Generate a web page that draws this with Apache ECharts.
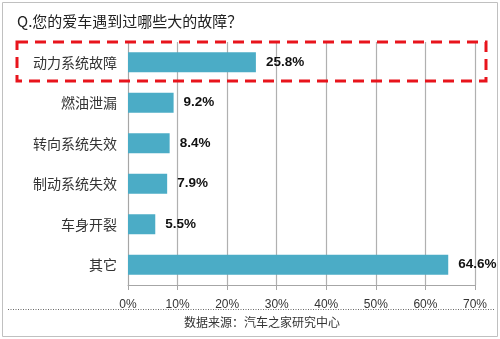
<!DOCTYPE html>
<html><head><meta charset="utf-8">
<script src="https://cdn.jsdelivr.net/npm/echarts@6/dist/echarts.min.js"></script>
<style>html,body{margin:0;padding:0;background:#fff}#c{width:500px;height:339px}</style>
</head><body><div id="c"></div>
<script>
const titleText = 'Q.您的爱车遇到过哪些大的故障？';
const sourceText = '数据来源：汽车之家研究中心';
const categories = ['动力系统故障','燃油泄漏','转向系统失效','制动系统失效','车身开裂','其它'];
const values = [25.8, 9.2, 8.4, 7.9, 5.5, 64.6];
const xTicks = [0, 10, 20, 30, 40, 50, 60, 70];

const chart = echarts.init(document.getElementById('c'), null, {renderer:'canvas'});
const cjk = '"Noto Sans CJK SC", sans-serif';
chart.setOption({
  animation: false,
  backgroundColor: '#fff',
  grid: {left: 128, right: 25, top: 42, bottom: 54, containLabel: false},
  xAxis: {
    type: 'value', min: xTicks[0], max: xTicks[xTicks.length-1], interval: 10,
    axisLine: {show: true, lineStyle: {color: '#a6a6a6', width: 1}},
    axisTick: {show: true, length: 5, lineStyle: {color: '#a6a6a6'}},
    splitLine: {show: true, lineStyle: {color: '#b0b0b0', width: 1.2}},
    axisLabel: {formatter: '{value}%', color: '#333', fontSize: 12, margin: 14, fontFamily: '"Liberation Sans", sans-serif'}
  },
  yAxis: {
    type: 'category', data: categories, inverse: true,
    axisLine: {show: true, lineStyle: {color: '#a6a6a6'}},
    axisTick: {show: false},
    axisLabel: {color: '#333', fontSize: 14, margin: 11, fontFamily: cjk}
  },
  series: [{
    type: 'bar', data: values, barWidth: 20,
    itemStyle: {color: '#4BACC6'},
    label: {show: true, position: 'right', distance: 10, formatter: '{c}%', color: '#111', fontWeight: 'bold', fontSize: 13.5, fontFamily: '"Liberation Sans", sans-serif'}
  }],
  graphic: [
    {type: 'rect', shape: {x: 2.5, y: 2.5, width: 495, height: 334}, style: {fill: 'none', stroke: '#c0c0c0', lineWidth: 1}, z: 100},
    {type: 'text', left: 17, top: 14, style: {text: titleText, fontSize: 15, fill: '#222', fontFamily: cjk}},
    {type: 'rect', shape: {x: 17, y: 42, width: 469, height: 39}, style: {fill: 'none', stroke: '#e8141c', lineWidth: 3, lineDash: [11, 7]}, z: 100},
    {type: 'line', shape: {x1: 8, y1: 309.5, x2: 495, y2: 309.5}, style: {stroke: '#666', lineWidth: 1, lineDash: [1, 1.5]}, z: 1},
    {type: 'text', x: 262, y: 322, style: {text: sourceText, fontSize: 12, fill: '#333', fontFamily: cjk, align: 'center', verticalAlign: 'middle'}}
  ]
});
</script></body></html>
